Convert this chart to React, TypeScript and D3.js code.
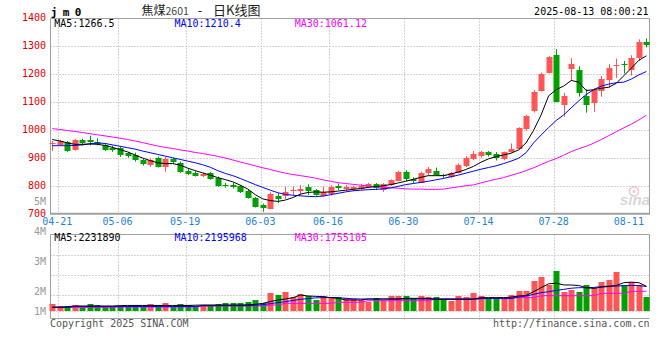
import * as d3 from 'd3';
import { useEffect } from 'react';

const dates = [
  '04-18', '04-21', '04-22', '04-23', '04-24', '04-25', '04-28', '04-29', '04-30', '05-06',
  '05-07', '05-08', '05-09', '05-12', '05-13', '05-14', '05-15', '05-16', '05-19', '05-20',
  '05-21', '05-22', '05-23', '05-26', '05-27', '05-28', '05-29', '05-30', '06-03', '06-04',
  '06-05', '06-06', '06-09', '06-10', '06-11', '06-12', '06-13', '06-16', '06-17', '06-18',
  '06-19', '06-20', '06-23', '06-24', '06-25', '06-26', '06-27', '06-30', '07-01', '07-02',
  '07-03', '07-04', '07-07', '07-08', '07-09', '07-10', '07-11', '07-14', '07-15', '07-16',
  '07-17', '07-18', '07-21', '07-22', '07-23', '07-24', '07-25', '07-28', '07-29', '07-30',
  '07-31', '08-01', '08-04', '08-05', '08-06', '08-07', '08-08', '08-11', '08-12', '08-13',
];

const opens = [
  950, 948, 957, 930, 965, 965, 957, 947, 938, 936, 918, 912, 894, 876, 900, 870, 897, 882, 855, 849,
  838, 846, 829, 806, 805, 801, 783, 758, 733, 720, 764, 767, 786, 784, 798, 786, 767, 772, 802, 792,
  790, 791, 798, 808, 786, 805, 820, 852, 825, 813, 849, 855, 840, 834, 849, 872, 899, 910, 923, 915,
  896, 922, 933, 1004, 1069, 1140, 1206, 1269, 1090, 1219, 1215, 1122, 1099, 1141, 1180, 1231, 1238, 1215, 1257, 1316,
];
const highs = [
  962, 966, 962, 969, 970, 981, 971, 954, 945, 942, 923, 920, 898, 900, 906, 905, 902, 888, 862, 854,
  849, 851, 835, 812, 812, 805, 788, 762, 738, 778, 775, 799, 799, 804, 807, 790, 799, 804, 810, 805,
  802, 808, 812, 812, 811, 825, 855, 858, 832, 852, 869, 867, 845, 852, 882, 908, 926, 926, 926, 922,
  924, 953, 1011, 1055, 1144, 1206, 1265, 1290, 1134, 1258, 1228, 1147, 1151, 1194, 1236, 1256, 1248, 1268, 1325, 1328,
];
const lows = [
  926, 944, 922, 927, 946, 946, 946, 926, 923, 905, 902, 888, 874, 870, 867, 852, 880, 848, 840, 835,
  833, 823, 798, 795, 792, 776, 756, 724, 709, 718, 740, 755, 769, 765, 769, 766, 763, 767, 787, 785,
  782, 786, 795, 787, 780, 802, 818, 818, 812, 812, 840, 837, 830, 830, 846, 869, 893, 902, 906, 892,
  893, 920, 930, 999, 1063, 1138, 1203, 1100, 1049, 1177, 1120, 1063, 1066, 1120, 1150, 1188, 1203, 1195, 1249, 1296,
];
const closes = [
  954, 961, 926, 965, 953, 957, 950, 930, 930, 912, 909, 894, 879, 894, 870, 896, 886, 852, 844, 838,
  844, 826, 802, 800, 799, 781, 759, 727, 721, 773, 755, 781, 788, 791, 784, 770, 781, 799, 793, 798,
  798, 802, 809, 793, 808, 822, 852, 825, 818, 849, 861, 840, 836, 849, 876, 902, 915, 922, 912, 900,
  922, 932, 1007, 1051, 1138, 1201, 1263, 1102, 1122, 1237, 1134, 1090, 1144, 1182, 1221, 1235, 1233, 1257, 1316, 1304,
];

// volume in millions of lots
const volumes = [
  0.63, 0.45, 0.45, 0.54, 0.39, 0.63, 0.54, 0.39, 0.39, 0.33, 0.45, 0.54, 0.45, 0.63, 0.54, 0.72, 0.48, 0.63, 0.54, 0.45,
  0.54, 0.54, 0.63, 0.69, 0.75, 0.75, 0.84, 0.99, 0.69, 1.62, 1.44, 1.74, 1.29, 1.53, 1.35, 0.99, 1.35, 1.2, 1.29, 1.2,
  1.05, 0.99, 0.84, 1.2, 0.99, 1.35, 1.35, 1.38, 1.2, 1.38, 1.29, 1.29, 1.08, 0.93, 1.38, 1.29, 1.65, 1.38, 1.2, 1.14,
  1.14, 1.44, 1.83, 1.83, 2.73, 3.09, 2.34, 3.63, 1.74, 1.89, 1.74, 2.34, 2.1, 2.64, 2.79, 3.54, 2.34, 2.64, 2.34, 1.29,
];

const ma5 = [
  967, 962, 955, 950, 950, 951, 950, 946, 939, 931, 923, 912, 901, 892, 884, 881, 881, 876, 865, 856,
  848, 840, 831, 824, 816, 804, 790, 770, 755, 749, 746, 751, 760, 772, 778, 780, 779, 780, 783, 786,
  789, 792, 796, 799, 802, 806, 812, 818, 825, 832, 838, 838, 838, 844, 851, 860, 871, 886, 898, 906,
  912, 918, 930, 955, 1000, 1055, 1123, 1145, 1158, 1178, 1172, 1142, 1145, 1150, 1154, 1168, 1195, 1222, 1250, 1266,
];
const ma10 = [
  945, 945, 945, 946, 948, 952, 955, 953, 948, 943, 938, 933, 926, 920, 914, 908, 902, 896, 890, 884,
  877, 868, 856, 846, 838, 828, 817, 806, 796, 786, 777, 771, 768, 766, 764, 763, 765, 770, 775, 780,
  784, 786, 788, 789, 791, 794, 800, 806, 810, 814, 818, 823, 828, 834, 840, 847, 854, 861, 867, 873,
  881, 890, 900, 920, 955, 983, 1010, 1035, 1055, 1080, 1105, 1128, 1145, 1158, 1165, 1170, 1172, 1183, 1198, 1210,
];
const ma30 = [
  1006, 1003, 999, 996, 992, 988, 984, 980, 976, 972, 967, 962, 956, 950, 944, 939, 935, 930, 926, 921,
  917, 912, 907, 901, 894, 887, 880, 873, 866, 860, 853, 847, 842, 838, 834, 829, 823, 818, 813, 810,
  807, 804, 801, 799, 797, 795, 793, 791, 790, 790, 789, 789, 790, 794, 798, 802, 805, 812, 819, 825,
  831, 839, 847, 856, 866, 878, 889, 899, 911, 924, 934, 943, 954, 967, 981, 995, 1009, 1022, 1037, 1054,
];

const volMa5 = [
  0.35, 0.35, 0.38, 0.45, 0.45, 0.45, 0.45, 0.45, 0.45, 0.48, 0.5, 0.5, 0.5, 0.5, 0.5, 0.5, 0.5, 0.5, 0.5, 0.52,
  0.54, 0.54, 0.54, 0.54, 0.54, 0.54, 0.56, 0.6, 0.69, 0.85, 0.99, 1.08, 1.2, 1.44, 1.35, 1.32, 1.29, 1.2, 1.14, 1.0,
  0.99, 0.99, 1.08, 1.08, 1.08, 1.08, 1.08, 1.14, 1.14, 1.14, 1.14, 1.08, 1.08, 1.08, 1.08, 1.08, 1.08, 1.2, 1.2, 1.2,
  1.2, 1.25, 1.35, 1.4, 1.74, 2.1, 2.45, 2.5, 2.35, 2.34, 2.3, 2.1, 2.04, 2.15, 2.2, 2.3, 2.55, 2.6, 2.55, 2.23,
];
const volMa10 = [
  0.32, 0.32, 0.32, 0.4, 0.4, 0.4, 0.4, 0.4, 0.4, 0.4, 0.4, 0.4, 0.4, 0.4, 0.4, 0.4, 0.4, 0.4, 0.4, 0.4,
  0.48, 0.48, 0.48, 0.48, 0.48, 0.48, 0.48, 0.52, 0.58, 0.66, 0.76, 0.84, 0.95, 1.05, 1.12, 1.18, 1.2, 1.22, 1.2, 1.15,
  1.1, 1.08, 1.08, 1.08, 1.08, 1.08, 1.08, 1.08, 1.08, 1.08, 1.08, 1.05, 1.05, 1.05, 1.05, 1.05, 1.05, 1.12, 1.12, 1.12,
  1.12, 1.12, 1.25, 1.35, 1.5, 1.65, 1.74, 1.85, 1.95, 2.05, 2.1, 2.1, 2.12, 2.2, 2.25, 2.25, 2.28, 2.3, 2.3, 2.2,
];
const volMa30 = [
  0.33, 0.33, 0.33, 0.33, 0.33, 0.33, 0.33, 0.33, 0.33, 0.36, 0.36, 0.36, 0.36, 0.36, 0.36, 0.36, 0.36, 0.36, 0.36, 0.36,
  0.45, 0.45, 0.45, 0.45, 0.45, 0.45, 0.45, 0.45, 0.45, 0.54, 0.54, 0.69, 0.69, 0.69, 0.69, 0.69, 0.69, 0.69, 0.78, 0.78,
  0.78, 0.78, 0.93, 0.93, 0.93, 0.93, 0.93, 0.93, 0.93, 0.93, 0.93, 1.08, 1.08, 1.08, 1.08, 1.08, 1.08, 1.08, 1.2, 1.2,
  1.2, 1.2, 1.2, 1.2, 1.2, 1.38, 1.38, 1.38, 1.38, 1.38, 1.38, 1.38, 1.38, 1.59, 1.59, 1.59, 1.59, 1.77, 1.77, 1.77,
];

const priceTicks = [1400, 1300, 1200, 1100, 1000, 900, 800, 700];
const volumeTicks = [5, 4, 3, 2, 1];
const dateTicks = ['04-21', '05-06', '05-19', '06-03', '06-16', '06-30', '07-14', '07-28', '08-11'];

const priceLegend = [
  { text: 'MA5:1266.5', color: '#000000' },
  { text: 'MA10:1210.4', color: '#0000ff' },
  { text: 'MA30:1061.12', color: '#ff00ff' },
];
const volumeLegend = [
  { text: 'MA5:2231890', color: '#000000' },
  { text: 'MA10:2195968', color: '#0000ff' },
  { text: 'MA30:1755105', color: '#ff00ff' },
];

const MONO = '"DejaVu Sans Mono", "Liberation Mono", monospace';
const CJK = '"Noto Sans CJK SC", sans-serif';
const RED = '#ff5555';
const GREEN = '#00a000';
const GRID = '#a8a8a8';
const BORDER = '#a0a0a0';

const LEFT = 50.5;
const RIGHT = 649.5;
const PRICE_TOP = 18.5;
const VOL_TOP = 234.5;
const VOL_BASE = 311;
const VOL_BOTTOM = 318.5;

export default function App(): React.ReactElement {
  useEffect(() => {
    document.body.style.margin = '0';
  }, []);

  const x = d3.scaleLinear().domain([0, dates.length - 1]).range([52.3, 646.4]);
  const y = d3.scaleLinear().domain([700, 1400]).range([214.3, 18.3]);
  const vy = d3.scaleLinear().domain([0, 7]).range([VOL_BASE, 233.3]);
  const volLabelY = d3.scaleLinear().domain([2, 5]).range([294, 204]);
  const priceBottom = y(700);

  const px = (i: number) => Math.round(x(i));
  const makeLine = (scale: d3.ScaleLinear<number, number>) =>
    d3
      .line<number>()
      .x((_, i) => x(i))
      .y((d) => scale(d));

  const priceLine = makeLine(y);
  const volLine = makeLine(vy);

  const gridDates = dateTicks.filter((d) => x(dates.indexOf(d)) < RIGHT - 20);
  const volGrid = d3.range(1, 4).map((k) => VOL_TOP + k * 20.2);

  return (
    <svg
      width={660}
      height={360}
      style={{ position: 'absolute', left: 0, top: 0, background: '#fff' }}
      fontFamily={MONO}
    >
      <rect width={660} height={360} fill="#fff" />

      {/* header */}
      <text x={50.7} y={15.5} fontSize={11} fontWeight="bold" letterSpacing={5.4} fill="#000">
        jm0
      </text>
      <text x={141.5} y={15} fontSize={12} fill="#222" fontFamily={CJK}>
        焦煤<tspan fontSize={10.5} fill="#444">2601</tspan>
      </text>
      <text x={200} y={15} fontSize={13} textAnchor="middle" fill="#222" fontFamily={CJK}>
        -
      </text>
      <text x={213} y={15} fontSize={13} fill="#222" fontFamily={CJK}>
        日K线图
      </text>
      <text x={648.5} y={15} fontSize={10} textAnchor="end" fill="#000">
        2025-08-13 08:00:21
      </text>

      {/* price grid */}
      {priceTicks.slice(1, -1).map((t) => (
        <line
          key={`pg${t}`}
          x1={LEFT}
          x2={RIGHT}
          y1={Math.round(y(t)) + 0.5}
          y2={Math.round(y(t)) + 0.5}
          stroke={GRID}
          strokeDasharray="1,2"
        />
      ))}
      {gridDates.map((d) => {
        const gx = px(dates.indexOf(d)) - 1.5;
        return (
          <g key={`vg${d}`}>
            <line x1={gx} x2={gx} y1={PRICE_TOP} y2={priceBottom} stroke={GRID} strokeDasharray="1,2" />
            <line x1={gx} x2={gx} y1={VOL_TOP} y2={VOL_BOTTOM + 3} stroke={GRID} strokeDasharray="1,2" />
          </g>
        );
      })}

      {/* price panel frame */}
      <line x1={LEFT} x2={RIGHT} y1={PRICE_TOP} y2={PRICE_TOP} stroke={BORDER} />
      <line x1={LEFT} x2={LEFT} y1={PRICE_TOP} y2={priceBottom} stroke={BORDER} />
      <line x1={RIGHT} x2={RIGHT} y1={PRICE_TOP} y2={priceBottom} stroke={BORDER} />
      <line x1={LEFT - 0.5} x2={RIGHT + 0.5} y1={priceBottom - 0.5} y2={priceBottom - 0.5} stroke={BORDER} strokeWidth={2} />

      {/* price axis labels */}
      {priceTicks.map((t) => (
        <text key={`pl${t}`} x={46} y={y(t) + 3} fontSize={10} textAnchor="end" fill="#e00000">
          {t}
        </text>
      ))}

      {/* candles */}
      {dates.map((d, i) => {
        const up = closes[i] >= opens[i];
        const color = up ? RED : GREEN;
        const cx = px(i);
        const top = Math.round(y(Math.max(opens[i], closes[i])));
        const bottom = Math.round(y(Math.min(opens[i], closes[i])));
        return (
          <g key={`c${d}`}>
            <line x1={cx + 0.5} x2={cx + 0.5} y1={y(highs[i])} y2={y(lows[i])} stroke={color} />
            <rect x={cx - 2.5} y={top} width={6} height={Math.max(1, bottom - top)} fill={color} />
          </g>
        );
      })}

      {/* price moving averages */}
      <path d={priceLine(ma30) ?? ''} fill="none" stroke="#ff00ff" strokeWidth={1} />
      <path d={priceLine(ma10) ?? ''} fill="none" stroke="#0000ff" strokeWidth={1} />
      <path d={priceLine(ma5) ?? ''} fill="none" stroke="#000000" strokeWidth={1} />

      {priceLegend.map((l, k) => (
        <text key={l.text} x={54.3 + k * 120.2} y={27} fontSize={10} fill={l.color}>
          {l.text}
        </text>
      ))}

      {/* date labels */}
      {dateTicks.map((d) => (
        <text key={`dl${d}`} x={x(dates.indexOf(d)) - 2.5} y={224.5} fontSize={10} textAnchor="middle" fill="#1c84d8">
          {d}
        </text>
      ))}

      {/* sina watermark */}
      <g opacity={0.55}>
        <circle cx={634} cy={191.5} r={4.5} fill="none" stroke="#e89a9a" strokeWidth={1.5} />
        <circle cx={634} cy={191.5} r={1.5} fill="#e89a9a" />
        <text
          x={620}
          y={205}
          fontSize={15}
          fontStyle="italic"
          fontWeight="bold"
          fill="#b8b8b8"
          fontFamily='"Liberation Sans", sans-serif'
        >
          sina
        </text>
      </g>

      {/* volume panel */}
      {volGrid.map((g) => (
        <line
          key={`vgh${g}`}
          x1={LEFT}
          x2={RIGHT}
          y1={Math.round(g) + 0.5}
          y2={Math.round(g) + 0.5}
          stroke={GRID}
          strokeDasharray="1,2"
        />
      ))}
      <line x1={LEFT} x2={RIGHT} y1={VOL_BASE + 0.5} y2={VOL_BASE + 0.5} stroke={GRID} strokeDasharray="1,2" />
      <line x1={LEFT} x2={RIGHT} y1={VOL_TOP} y2={VOL_TOP} stroke={BORDER} />
      <line x1={LEFT} x2={LEFT} y1={VOL_TOP} y2={VOL_BOTTOM} stroke={BORDER} />
      <line x1={RIGHT} x2={RIGHT} y1={VOL_TOP} y2={VOL_BASE} stroke={BORDER} />
      <line x1={LEFT} x2={RIGHT} y1={VOL_BOTTOM} y2={VOL_BOTTOM} stroke={BORDER} />

      {volumes.map((v, i) => {
        const up = closes[i] >= opens[i];
        const top = Math.round(vy(v));
        return (
          <rect
            key={`v${dates[i]}`}
            x={px(i) - 2.5}
            y={top}
            width={6}
            height={VOL_BASE - top}
            fill={up ? RED : GREEN}
          />
        );
      })}

      <path d={volLine(volMa30) ?? ''} fill="none" stroke="#ff00ff" strokeWidth={1} />
      <path d={volLine(volMa10) ?? ''} fill="none" stroke="#0000ff" strokeWidth={1} />
      <path d={volLine(volMa5) ?? ''} fill="none" stroke="#000000" strokeWidth={1} />

      {volumeLegend.map((l, k) => (
        <text key={l.text} x={54.3 + k * 120.2} y={240.5} fontSize={10} fill={l.color}>
          {l.text}
        </text>
      ))}

      {volumeTicks.map((t) => (
        <text
          key={`vl${t}`}
          x={46}
          y={Math.min(volLabelY(t), 314) + 0.5}
          fontSize={10}
          textAnchor="end"
          fill="#999"
        >
          {t}M
        </text>
      ))}

      {/* footer */}
      <text x={50} y={326.5} fontSize={10} fill="#555">
        Copyright 2025 SINA.COM
      </text>
      <text x={649.5} y={326.5} fontSize={10} textAnchor="end" fill="#555">
        http://finance.sina.com.cn
      </text>
    </svg>
  );
}
